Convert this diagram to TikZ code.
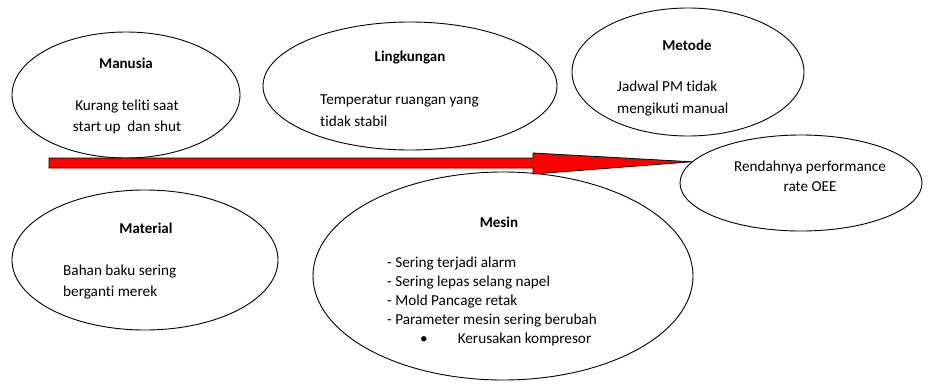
\documentclass[tikz,border=0pt]{standalone}
\usepackage{fontspec}
\setmainfont{Carlito}[Ligatures=NoCommon]
\usetikzlibrary{shapes.geometric,calc}

\tikzset{
  cause/.style={draw,ellipse,line width=0.9pt,inner sep=0pt},
  title/.style={font=\fontsize{15}{21}\selectfont\bfseries,inner sep=0pt},
  body/.style={align=left,anchor=north west,inner sep=0pt},
  fatarrow/.style={draw=black,fill=red,line width=0.8pt,line join=miter}
}

\begin{document}
\begin{tikzpicture}[x=1pt,y=-1pt,font=\fontsize{15.2}{22}\selectfont]
    \useasboundingbox (0,0) rectangle (929,383);
    % ellipses
    \node[cause,minimum width=228,minimum height=126] (manusia) at (126,95) {};
    \node[cause,minimum width=294,minimum height=128] (lingkungan) at (410,86) {};
    \node[cause,minimum width=232,minimum height=128] (metode) at (688,72) {};
    \node[cause,minimum width=266,minimum height=140] (material) at (145,260) {};
    \node[cause,minimum width=380,minimum height=208] (mesin) at (503,276) {};
    \node[cause,minimum width=242,minimum height=96] (effect) at (801,183) {};
    % texts
    \node[title] (manusiaT) at (126,63) {Manusia};
    \node[align=center,anchor=north,inner sep=0pt,font=\fontsize{15.2}{21}\selectfont] (manusiaB) at (127,100) {Kurang teliti saat\\ start up\ \ dan shut};
    \node[title] (lingkunganT) at (410,58) {Lingkungan};
    \node[body] (lingkunganB) at (320,95) {Temperatur ruangan yang\\tidak stabil};
    \node[title] (metodeT) at (687,45) {Metode};
    \node[body] (metodeB) at (617,81) {Jadwal PM tidak\\mengikuti manual};
    \node[title] (materialT) at (146,228) {Material};
    \node[body,font=\fontsize{15.2}{21}\selectfont] (materialB) at (63,265) {Bahan baku sering\\berganti merek};
    \node[title] (mesinT) at (499,222) {Mesin};
    \node[body,font=\fontsize{15.2}{19}\selectfont] (mesinB) at (387,257) {- Sering terjadi alarm\\- Sering lepas selang napel\\- Mold Pancage retak\\- Parameter mesin sering berubah\\\hspace*{33pt}\textbullet\hspace{30pt}Kerusakan kompresor};
    \node[align=center,anchor=north,inner sep=0pt,font=\fontsize{15.2}{20}\selectfont] (effectT) at (810,161) {Rendahnya performance\\rate OEE};
    % big arrow
    \coordinate (tail) at (49,163);
    \coordinate (head) at (533,163);
    \draw[fatarrow] ($(tail)+(0,-5)$) -- ($(head)+(0,-5)$) -- ($(head)+(0,-10)$)
        -- (effect.169) -- ($(head)+(0,11)$) -- ($(head)+(0,5)$) -- ($(tail)+(0,5)$) -- cycle;
\end{tikzpicture}
\end{document}
